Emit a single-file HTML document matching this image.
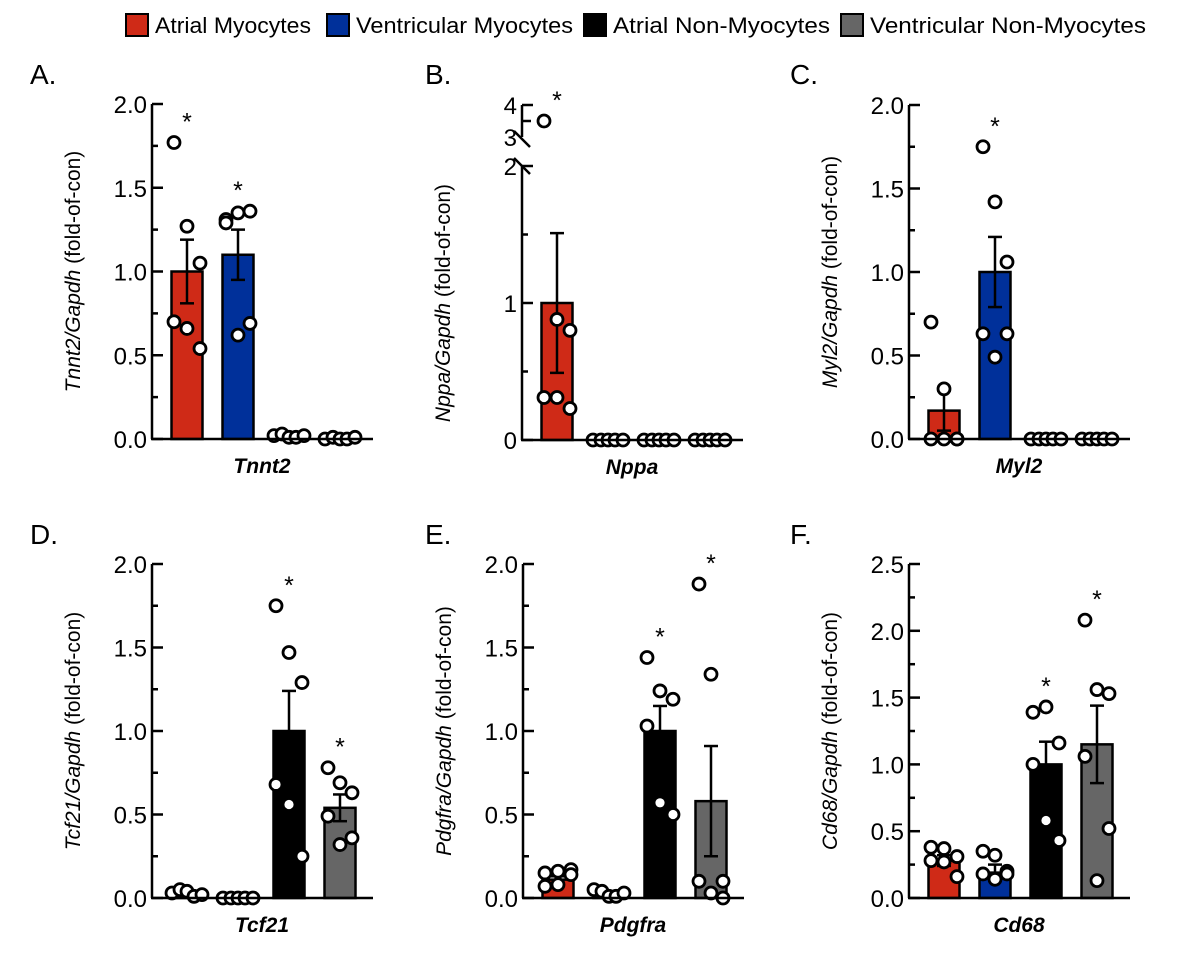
<!DOCTYPE html>
<html><head><meta charset="utf-8">
<style>
html,body{margin:0;padding:0;background:#fff;}
svg{display:block;font-family:"Liberation Sans",Arial,sans-serif;}
</style></head>
<body>
<svg id="chart" width="1200" height="968" viewBox="0 0 1200 968" xmlns="http://www.w3.org/2000/svg">
  <g>
    <g>
      <rect x="126" y="14" width="22" height="22" fill="#cf2a17" stroke="#000" stroke-width="2"/>
      <text x="155" y="33" font-size="22.5" textLength="156" lengthAdjust="spacingAndGlyphs">Atrial Myocytes</text></g>
    <g>
      <rect x="327" y="14" width="22" height="22" fill="#00309a" stroke="#000" stroke-width="2"/>
      <text x="356" y="33" font-size="22.5" textLength="217" lengthAdjust="spacingAndGlyphs">Ventricular Myocytes</text></g>
    <g>
      <rect x="584" y="14" width="22" height="22" fill="#000" stroke="#000" stroke-width="2"/>
      <text x="613" y="33" font-size="22.5" textLength="217" lengthAdjust="spacingAndGlyphs">Atrial Non-Myocytes</text></g>
    <g>
      <rect x="841" y="14" width="22" height="22" fill="#666" stroke="#000" stroke-width="2"/>
      <text x="870" y="33" font-size="22.5" textLength="276" lengthAdjust="spacingAndGlyphs">Ventricular Non-Myocytes</text></g>
  </g>
</svg>
<script>
const groups = ["Atrial Myocytes","Ventricular Myocytes","Atrial Non-Myocytes","Ventricular Non-Myocytes"];
const colors = ["#cf2a17","#00309a","#000000","#666666"];

const aMeans = [1.0, 1.10, 0.01, 0.0];
const aErr = [0.19, 0.15, 0.01, 0.0];
const aPts = [[1.77,1.27,1.05,0.70,0.66,0.54],[1.31,1.35,1.36,1.29,0.69,0.62],[0.02,0.03,0.01,0.01,0.02],[0.0,0.01,0.0,0.0,0.01]];
const aStars = [true,true,false,false];

const bMeans = [1.0, 0.0, 0.0, 0.0];
const bErr = [0.51, 0, 0, 0];
const bPts = [[3.5,0.88,0.80,0.31,0.31,0.23],[0,0,0,0,0],[0,0,0,0,0],[0,0,0,0,0]];
const bStars = [true,false,false,false];

const cMeans = [0.17, 1.0, 0.0, 0.0];
const cErr = [0.12, 0.21, 0, 0];
const cPts = [[0.70,0.30,0.0,0.0,0.0,0.0],[1.75,1.42,1.06,0.63,0.63,0.49],[0,0,0,0,0],[0,0,0,0,0]];
const cStars = [false,true,false,false];

const dMeans = [0.02, 0.0, 1.0, 0.54];
const dErr = [0.01, 0, 0.24, 0.08];
const dPts = [[0.03,0.05,0.04,0.01,0.02],[0,0,0,0,0],[1.75,1.47,1.29,0.68,0.56,0.25],[0.78,0.69,0.63,0.49,0.36,0.32]];
const dStars = [false,false,true,true];

const eMeans = [0.11, 0.03, 1.0, 0.58];
const eErr = [0.02, 0.01, 0.15, 0.33];
const ePts = [[0.15,0.16,0.17,0.07,0.08,0.14],[0.05,0.04,0.01,0.01,0.03],[1.44,1.24,1.19,1.03,0.57,0.50],[1.88,1.34,0.10,0.10,0.00,0.03]];
const eStars = [false,false,true,true];

const fMeans = [0.28, 0.19, 1.0, 1.15];
const fErr = [0.04, 0.06, 0.17, 0.29];
const fPts = [[0.38,0.37,0.31,0.28,0.27,0.16],[0.35,0.32,0.20,0.18,0.18,0.14],[1.39,1.43,1.16,1.0,0.58,0.43],[2.08,1.56,1.53,1.06,0.52,0.13]];
const fStars = [false,false,true,true];

const yTicksA = ["0.0","0.5","1.0","1.5","2.0"];
const yTicksF = ["0.0","0.5","1.0","1.5","2.0","2.5"];

const NS = "http://www.w3.org/2000/svg";
const svg = document.getElementById("chart");
function mk(tag, attrs, parent){
  const e = document.createElementNS(NS, tag);
  for (const k in attrs) e.setAttribute(k, attrs[k]);
  (parent||svg).appendChild(e); return e;
}
const jitter6 = [[-13,0,13,-13,0,13],[-12,0,12,-12,12,0]];
const jitter5 = [-15,-7,0,7,15];

function panel(o){
  const g = mk("g", {});
  
  
  const ax = o.ax, y0 = o.y0, yTop = o.yTop, ymax = o.ymax;
  const y = v => y0 - (v / ymax) * (y0 - yTop);
  const cx = i => ax + 35 + i * 51;
  const lt = mk("text", {x: o.letterX, y: o.letterY, "font-size": 28}, g);
  lt.textContent = o.id + ".";
  
  
  const yt = mk("text", {transform: `translate(${ax-72},${(y0+yTop)/2}) rotate(-90)`, "text-anchor": "middle", "font-size": 21}, g);
  
  
  const it = mk("tspan", {"font-style": "italic"}, yt); it.textContent = o.gene + "/Gapdh";
  const t2 = mk("tspan", {}, yt); t2.textContent = " (fold-of-con)";
  const xt = mk("text", {x: ax + 110, y: y0 + 34, "text-anchor": "middle", "font-size": 21, "font-weight": "bold", "font-style": "italic"}, g);
  xt.textContent = o.gene;
  
  
  o.means.forEach((m, i) => {
    const bw = 31;
    if (m > 0.005) {
      const r = mk("rect", {x: cx(i) - bw/2, y: y(m), width: bw, height: y0 - y(m), fill: colors[i], stroke: "#000", "stroke-width": 2.5}, g);
      
      
    }
    const e = o.err[i];
    if (e > 0.005) {
      const eg = mk("g", {stroke: "#000", "stroke-width": 2.5}, g);
      
      
      mk("line", {x1: cx(i), x2: cx(i), y1: y(m + e), y2: y(Math.max(0, m - e))}, eg);
      mk("line", {x1: cx(i) - 7, x2: cx(i) + 7, y1: y(m + e), y2: y(m + e)}, eg);
      if (m - e > 0.02) mk("line", {x1: cx(i) - 7, x2: cx(i) + 7, y1: y(m - e), y2: y(m - e)}, eg);
    }
    const pts = o.pts[i];
    const top = m + e;
    pts.forEach((v, k) => {
      const off = pts.length === 6 ? jitter6[i % 2][k] : jitter5[k];
      const py = o.map ? o.map(v) : y(v);
      const c = mk("circle", {cx: cx(i) + off, cy: py, r: 6, fill: "#fff", stroke: "#000", "stroke-width": 2.8}, g);
      
      
    });
    if (o.stars[i]) {
      const mx = Math.max(...pts, top);
      const sy = (o.map ? o.map(mx) : y(mx)) - 12;
      const s = mk("text", {x: cx(i), y: sy, "text-anchor": "middle", "font-size": 25}, g);
      s.textContent = "*";
      
      
    }
  });
  const axg = mk("g", {stroke: "#000", "stroke-width": 2.5, fill: "none"}, g);
  
  
  mk("line", {x1: ax - 1, x2: ax + 221, y1: y0, y2: y0}, axg);
  if (!o.broken) {
    mk("line", {x1: ax, x2: ax, y1: y0, y2: yTop}, axg);
    const n = (o.ticks.length - 1) * 2;
    for (let k = 0; k <= n; k++) {
      const v = k * ymax / n;
      mk("line", {x1: ax, x2: ax + (k % 2 ? 6 : 11), y1: y(v), y2: y(v)}, axg);
    }
    o.ticks.forEach((t, k) => {
      const v = k * ymax / (o.ticks.length - 1);
      const tx = mk("text", {x: ax - 5, y: y(v) + 9, "text-anchor": "end", "font-size": 24}, g);
      tx.textContent = t;
      
      
    });
  } else {
    mk("line", {x1: ax, x2: ax, y1: y0, y2: y(2) }, axg);
    for (let k = 0; k <= 4; k++) mk("line", {x1: ax, x2: ax + (k % 2 ? 6 : 11), y1: y(k*0.5), y2: y(k*0.5)}, axg);
    mk("line", {x1: ax - 8, x2: ax + 8, y1: y(2) - 8, y2: y(2) + 8}, axg);
    mk("line", {x1: ax, x2: ax, y1: o.map(4), y2: o.map(3)}, axg);
    mk("line", {x1: ax, x2: ax + 11, y1: o.map(4), y2: o.map(4)}, axg);
    mk("line", {x1: ax, x2: ax + 9, y1: o.map(3.5), y2: o.map(3.5)}, axg);
    mk("line", {x1: ax - 8, x2: ax + 8, y1: o.map(3) - 6, y2: o.map(3) + 10}, axg);
    [["0",0],["1",1],["2",2]].forEach(([t,v]) => {
      const tx = mk("text", {x: ax - 5, y: y(v) + 9, "text-anchor": "end", "font-size": 24}, g);
      tx.textContent = t;
      
      
    });
    [["3",3],["4",4]].forEach(([t,v]) => {
      const tx = mk("text", {x: ax - 5, y: o.map(v) + 9, "text-anchor": "end", "font-size": 24}, g);
      tx.textContent = t;
      
      
    });
  }
}

panel({id:"A", gene:"Tnnt2", ax:152, y0:439, yTop:104, ymax:2, ticks:yTicksA, means:aMeans, err:aErr, pts:aPts, stars:aStars, letterX:30, letterY:84});
panel({id:"B", gene:"Nppa", ax:522, y0:440, yTop:166, ymax:2, ticks:null, broken:true,
  map: v => v <= 2 ? 440 - v * 137 : 137 - (v - 3) * 32,
  means:bMeans, err:bErr, pts:bPts, stars:bStars, letterX:425, letterY:84});
panel({id:"C", gene:"Myl2", ax:909, y0:439, yTop:105, ymax:2, ticks:yTicksA, means:cMeans, err:cErr, pts:cPts, stars:cStars, letterX:790, letterY:84});
panel({id:"D", gene:"Tcf21", ax:152, y0:898, yTop:564, ymax:2, ticks:yTicksA, means:dMeans, err:dErr, pts:dPts, stars:dStars, letterX:30, letterY:544});
panel({id:"E", gene:"Pdgfra", ax:523, y0:898, yTop:564, ymax:2, ticks:yTicksA, means:eMeans, err:eErr, pts:ePts, stars:eStars, letterX:425, letterY:544});
panel({id:"F", gene:"Cd68", ax:909, y0:898, yTop:564, ymax:2.5, ticks:yTicksF, means:fMeans, err:fErr, pts:fPts, stars:fStars, letterX:790, letterY:544});
</script>
</body></html>
